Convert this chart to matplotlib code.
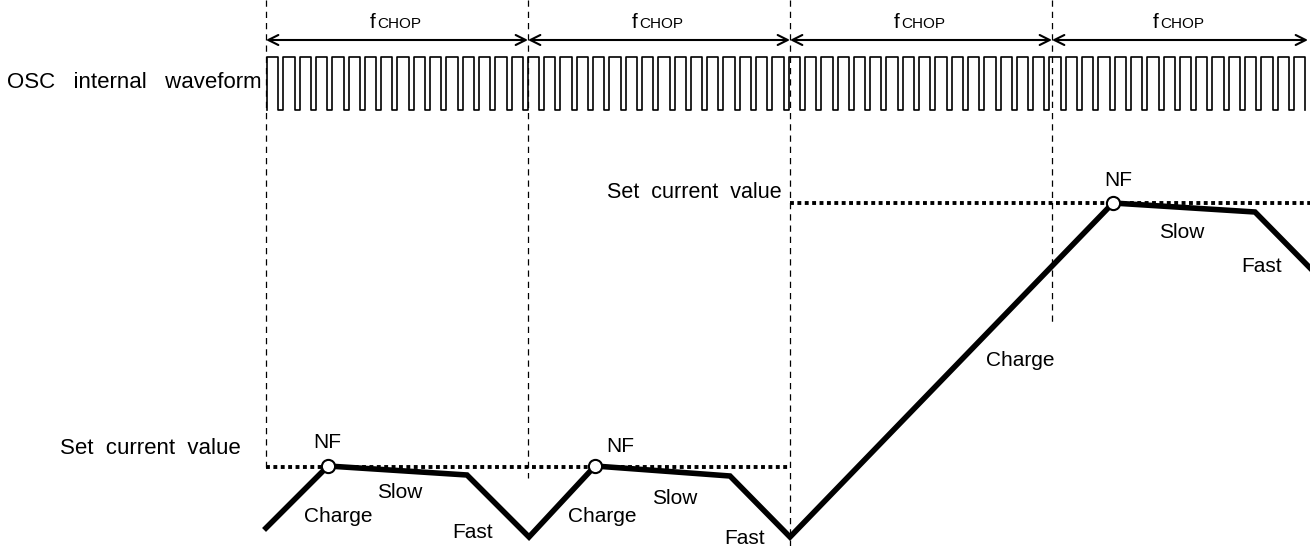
import matplotlib.pyplot as plt
import numpy as np

plt.rcParams['font.family'] = ['Liberation Sans', 'DejaVu Sans']

# chopping period boundaries (time axis, same units as the picture)
chop_edges = [266, 528, 790, 1052, 1308]
divider_ends = [467, 478, 546, 325]

# OSC internal waveform
osc_start = 267
osc_period = 16.3
osc_high = 11.3
osc_pulses = 64
osc_top = 57
osc_bottom = 110

# coil current trace (time, level; level axis points down)
current_t = [266, 328, 467, 529, 595, 730, 790, 1113, 1255, 1314]
current_i = [528, 466, 475, 537, 466, 476, 537, 203, 212, 272]

# set current value, one level per region
set_t = [[266, 790], [790, 1310]]
set_i = [467, 203]

nf_t = [328, 595, 1113]
nf_i = [466, 466, 203]
nf_label_t = [327, 620, 1118]
nf_label_i = [443, 446, 180]

phase_labels = ['Charge', 'Slow', 'Fast', 'Charge', 'Slow', 'Fast', 'Charge', 'Slow', 'Fast']
phase_t = [338, 400, 473, 602, 675, 745, 1020, 1182, 1262]
phase_i = [517, 492, 532, 517, 498, 539, 360, 232, 267]

fig = plt.figure(figsize=(13.1, 5.46), dpi=100)
ax = fig.add_axes([0, 0, 1, 1])
ax.set_xlim(0, 1310)
ax.set_ylim(546, 0)
ax.axis('off')

# dashed dividers
for x, yend in zip(chop_edges[:4], divider_ends):
    ax.plot([x, x], [0, yend], color='black', lw=0.9, dashes=(5, 4))

# fCHOP arrows and labels
for a, b in zip(chop_edges[:-1], chop_edges[1:]):
    ax.annotate('', xy=(b, 40), xytext=(a, 40),
                arrowprops=dict(arrowstyle='<->,head_length=0.4,head_width=0.2',
                                lw=1.5, color='black', shrinkA=0, shrinkB=0,
                                mutation_scale=18))
    c = (a + b) / 2
    ax.text(c - 27, 28, 'f', fontsize=15, ha='left', va='baseline')
    ax.text(c - 20, 28, 'CHOP', fontsize=11, ha='left', va='baseline')

# square wave
wx = [osc_start]
wy = [osc_bottom]
for k in range(osc_pulses):
    x0 = osc_start + k * osc_period
    wx += [x0, x0, x0 + osc_high, x0 + osc_high]
    wy += [osc_bottom, osc_top, osc_top, osc_bottom]
ax.plot(wx, wy, color='black', lw=1.2)
ax.text(262, 83, 'OSC   internal   waveform', fontsize=16, ha='right', va='center')

# set current levels
for ts, lev in zip(set_t, set_i):
    ax.plot(ts, [lev, lev], color='black', lw=2.8, linestyle=(0, (1, 0.9)),
            dash_capstyle='butt')
ax.text(150, 448, 'Set  current  value', fontsize=16, ha='center', va='center')
ax.text(694, 193, 'Set  current  value', fontsize=15.5, ha='center', va='center')

# current trace
ax.plot(current_t, current_i, color='black', lw=4, solid_joinstyle='miter')
ax.plot(nf_t, nf_i, 'o', ms=9.5, mfc='white', mec='black', mew=1.5)

for t, i in zip(nf_label_t, nf_label_i):
    ax.text(t, i, 'NF', fontsize=15, ha='center', va='center')
for s, t, i in zip(phase_labels, phase_t, phase_i):
    ax.text(t, i, s, fontsize=15, ha='center', va='center')

plt.savefig('out.png', dpi=100)
